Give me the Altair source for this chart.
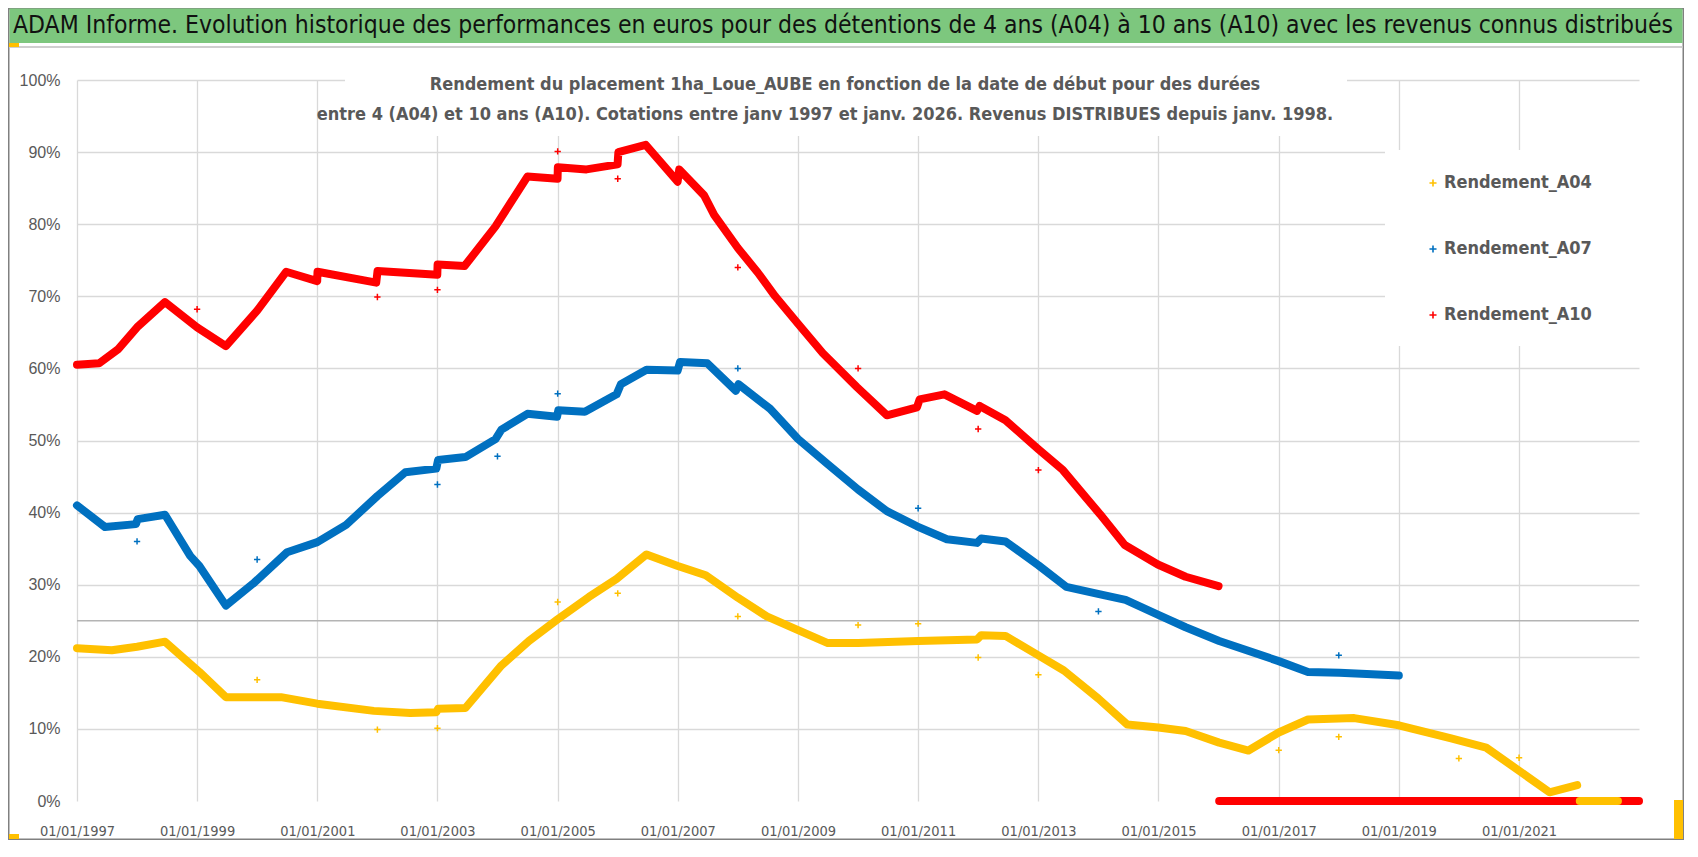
import altair as alt
import pandas as pd

TITLE = ("ADAM Informe. Evolution historique des performances en euros pour des détentions "
         "de 4 ans (A04) à 10 ans (A10) avec les revenus connus distribués")
SUBTITLE_1 = "Rendement du placement 1ha_Loue_AUBE en fonction de la date de début pour des durées"
SUBTITLE_2 = ("entre 4 (A04) et 10 ans (A10). Cotations entre janv 1997 et janv. 2026. "
              "Revenus DISTRIBUES depuis janv. 1998.")
SERIES = ["Rendement_A04", "Rendement_A07", "Rendement_A10"]
COLORS = ["#FFC000", "#0070C0", "#FF0000"]
X_TICK_YEARS = list(range(1997, 2022, 2))
Y_TICKS = list(range(0, 101, 10))

# ---- Rendement_A10 (red)
A10_DATES = ["1997-01-01", "1997-05-15", "1997-09-10", "1998-01-01", "1998-06-20", "1999-01-01",
             "1999-06-25", "2000-01-01", "2000-06-25", "2000-12-31", "2001-01-02", "2001-12-25",
             "2002-01-02", "2002-12-31", "2003-01-02", "2003-06-15", "2003-12-20", "2004-07-01",
             "2004-12-31", "2005-01-02", "2005-06-25", "2005-12-31", "2006-01-05", "2006-06-20",
             "2006-12-31", "2007-01-10", "2007-06-10", "2007-08-10", "2008-01-01", "2008-05-01",
             "2008-08-15", "2009-01-01", "2009-06-01", "2009-12-25", "2010-06-25", "2010-12-25",
             "2011-01-10", "2011-06-10", "2011-12-25", "2012-01-10", "2012-06-15", "2013-01-01",
             "2013-05-30", "2013-10-20", "2014-01-10", "2014-06-10", "2014-12-28", "2015-06-15",
             "2016-01-01"]
A10_VALUES = [60.5, 60.7, 62.7, 65.7, 69.2, 65.7,
              63.1, 68.0, 73.4, 72.1, 73.4, 71.9,
              73.5, 73.0, 74.4, 74.2, 79.7, 86.6,
              86.3, 87.9, 87.6, 88.3, 90.0, 91.0,
              85.9, 87.6, 84.0, 81.3, 76.7, 73.3,
              70.0, 66.2, 62.1, 57.4, 53.5, 54.6,
              55.7, 56.4, 54.1, 54.8, 52.8, 48.8,
              45.9, 42.0, 39.8, 35.5, 32.8, 31.1,
              29.8]
A10_ZERO_DATES = ["2016-01-05", "2022-12-31"]
A10_ZERO_VALUES = [0, 0]
A10_OUT_DATES = ["1999-01-01", "2002-01-01", "2003-01-01", "2005-01-01", "2006-01-01",
                 "2008-01-01", "2010-01-01", "2012-01-01", "2013-01-01"]
A10_OUT_VALUES = [68.2, 69.9, 70.9, 90.1, 86.3, 74.0, 60.0, 51.6, 45.9]

# ---- Rendement_A07 (blue)
A07_DATES = ["1997-01-01", "1997-06-20", "1997-12-25", "1998-01-05", "1998-06-20", "1998-11-20",
             "1999-01-15", "1999-06-25", "1999-12-15", "2000-07-01", "2001-01-01", "2001-06-25",
             "2002-01-01", "2002-06-20", "2002-12-25", "2003-01-05", "2003-06-20", "2003-12-20",
             "2004-01-25", "2004-07-01", "2004-12-28", "2005-01-05", "2005-06-15", "2005-12-25",
             "2006-01-20", "2006-06-25", "2006-12-31", "2007-01-15", "2007-06-30", "2007-12-20",
             "2008-01-05", "2008-07-15", "2009-01-01", "2009-07-01", "2010-01-01", "2010-06-25",
             "2010-12-25", "2011-06-25", "2011-12-25", "2012-01-20", "2012-06-15", "2013-01-01",
             "2013-06-20", "2014-01-05", "2014-06-15", "2014-12-31", "2015-06-15", "2016-01-05",
             "2017-01-01", "2017-06-28", "2018-01-05", "2018-06-20", "2019-01-01"]
A07_VALUES = [41.0, 38.0, 38.4, 39.1, 39.7, 34.0,
              32.6, 27.1, 30.3, 34.5, 35.9, 38.3,
              42.3, 45.6, 46.1, 47.3, 47.7, 50.2,
              51.5, 53.7, 53.3, 54.2, 54.0, 56.4,
              57.8, 59.8, 59.7, 60.9, 60.7, 56.9,
              57.8, 54.4, 50.2, 46.7, 43.2, 40.2,
              38.1, 36.3, 35.8, 36.4, 36.0, 32.7,
              29.7, 28.7, 27.9, 25.8, 24.1, 22.2,
              19.4, 17.9, 17.8, 17.6, 17.4]
A07_OUT_DATES = ["1998-01-01", "2000-01-01", "2003-01-01", "2004-01-01", "2005-01-01",
                 "2008-01-01", "2011-01-01", "2014-01-01", "2018-01-01"]
A07_OUT_VALUES = [36.0, 33.5, 43.9, 47.8, 56.5, 60.0, 40.6, 26.3, 20.2]

# ---- Rendement_A04 (yellow)
A04_DATES = ["1997-01-01", "1997-08-01", "1998-01-01", "1998-06-20", "1999-01-15", "1999-06-25",
             "2000-05-25", "2001-01-01", "2001-12-10", "2002-07-20", "2002-12-25", "2003-01-05",
             "2003-06-20", "2004-01-25", "2004-07-10", "2005-01-01", "2005-07-10", "2005-12-25",
             "2006-06-25", "2007-01-01", "2007-06-20", "2008-01-01", "2008-06-25", "2009-01-01",
             "2009-07-01", "2010-01-01", "2011-01-01", "2011-12-25", "2012-01-20", "2012-06-15",
             "2013-01-01", "2013-06-05", "2014-01-01", "2014-06-25", "2015-01-01", "2015-06-15",
             "2016-01-05", "2016-07-01", "2017-01-01", "2017-06-28", "2018-04-05", "2019-01-01",
             "2019-11-15", "2020-06-15", "2021-01-01", "2021-07-05", "2021-12-20"]
A04_VALUES = [21.2, 20.9, 21.4, 22.1, 17.9, 14.4,
              14.4, 13.5, 12.5, 12.2, 12.3, 12.8,
              12.9, 18.8, 22.2, 25.2, 28.3, 30.8,
              34.2, 32.6, 31.3, 28.2, 25.6, 23.7,
              21.9, 21.9, 22.2, 22.4, 23.0, 22.9,
              20.2, 18.1, 14.2, 10.6, 10.2, 9.7,
              8.1, 7.0, 9.5, 11.3, 11.5, 10.5,
              8.7, 7.4, 4.2, 1.2, 2.2]
A04_ZERO_DATES = ["2022-01-05", "2022-08-25"]
A04_ZERO_VALUES = [0, 0]
A04_OUT_DATES = ["2000-01-01", "2002-01-01", "2003-01-01", "2005-01-01", "2006-01-01",
                 "2008-01-01", "2010-01-01", "2011-01-01", "2012-01-01", "2013-01-01",
                 "2017-01-01", "2018-01-01", "2020-01-01", "2021-01-01"]
A04_OUT_VALUES = [16.8, 9.9, 10.1, 27.6, 28.8, 25.6, 24.4, 24.6, 19.9, 17.5,
                  7.05, 8.9, 5.9, 6.0]


def rows(series, seg, dates, values):
    return [{"series": series, "seg": seg, "date": d, "value": v} for d, v in zip(dates, values)]


line_rows = (rows("Rendement_A10", "a10", A10_DATES, A10_VALUES)
             + rows("Rendement_A10", "a10z", A10_ZERO_DATES, A10_ZERO_VALUES)
             + rows("Rendement_A07", "a07", A07_DATES, A07_VALUES)
             + rows("Rendement_A04", "a04", A04_DATES, A04_VALUES)
             + rows("Rendement_A04", "a04z", A04_ZERO_DATES, A04_ZERO_VALUES))
lines_df = pd.DataFrame(line_rows)
out_df = pd.DataFrame(rows("Rendement_A10", "o", A10_OUT_DATES, A10_OUT_VALUES)
                      + rows("Rendement_A07", "o", A07_OUT_DATES, A07_OUT_VALUES)
                      + rows("Rendement_A04", "o", A04_OUT_DATES, A04_OUT_VALUES))

NARROW = "Liberation Sans Narrow, DejaVu Sans Condensed, sans-serif"
CROSS = "M-1,0L1,0M0,-1L0,1"
W, H = 1562, 721

xscale = alt.Scale(type="utc", nice=False,
                   domain=[alt.DateTime(year=1997, month=1, date=1, utc=True),
                           alt.DateTime(year=2022, month=12, date=31, utc=True)])
yscale = alt.Scale(domain=[0, 100], nice=False)
xaxis = alt.Axis(values=[alt.DateTime(year=y, month=1, date=1, utc=True) for y in X_TICK_YEARS],
                 labelExpr="utcFormat(datum.value, '%d/%m/%Y')", title=None, grid=True,
                 gridColor="#d9d9d9", gridWidth=1.3, domain=False, ticks=False,
                 labelPadding=23, labelFont=NARROW, labelFontSize=14.5, labelColor="#595959",
                 labelFlush=False, labelOverlap=False)
yaxis = alt.Axis(values=Y_TICKS, labelExpr="datum.value + '%'", title=None, grid=True,
                 gridColor="#d9d9d9", gridWidth=1.3,
                 gridOpacity={"condition": {"test": "datum.value === 0", "value": 0}, "value": 1},
                 domain=False, ticks=False, labelPadding=17,
                 labelFont="Liberation Sans, sans-serif", labelFontSize=16, labelColor="#595959")
legend = alt.Legend(title=None, orient="none", legendX=1325, legendY=72, padding=22,
                    rowPadding=48, symbolType=CROSS, symbolSize=50, symbolStrokeWidth=1.6,
                    symbolFillColor="transparent", labelOffset=2, labelFont=NARROW,
                    labelFontSize=18, labelFontWeight="bold", labelColor="#595959",
                    labelLimit=400, direction="vertical")
color = alt.Color("series:N", scale=alt.Scale(domain=SERIES, range=COLORS), legend=legend)
X = alt.X("date:T", scale=xscale, axis=xaxis)
Y = alt.Y("value:Q", scale=yscale, axis=yaxis)

one = pd.DataFrame({"t": [""]})

sub_box = alt.Chart(one).mark_rect(color="white").encode(
    x=alt.value(268), x2=alt.value(1270), y=alt.value(-15), y2=alt.value(56))
leg_box = alt.Chart(one).mark_rect(color="white").encode(
    x=alt.value(1308), x2=alt.value(1563), y=alt.value(70), y2=alt.value(266))
rule25 = alt.Chart(one).mark_rule(color="#b4b4b4", strokeWidth=1.5).encode(y=alt.datum(25))


def line_layer(series):
    return alt.Chart(lines_df).transform_filter(alt.datum.series == series).mark_line(
        strokeWidth=8, strokeCap="round", strokeJoin="round").encode(
        x=X, y=Y, color=color, detail="seg:N")


points = alt.Chart(out_df).mark_point(shape=CROSS, filled=False, size=40, strokeWidth=1.5,
                                      opacity=1).encode(x=X, y=Y, color=color)

frame = alt.Chart(one).mark_rect(fill="transparent", stroke="#808080", strokeWidth=1.5).encode(
    x=alt.value(-68.25), x2=alt.value(1606.25), y=alt.value(-71.25), y2=alt.value(759.25))
green = alt.Chart(one).mark_rect(color="#7dc77e").encode(
    x=alt.value(-67.5), x2=alt.value(1605.5), y=alt.value(-71.5), y2=alt.value(-37))
under = alt.Chart(one).mark_rule(color="#cfcfcf", strokeWidth=2).encode(
    x=alt.value(-67.5), x2=alt.value(1605.5), y=alt.value(-33))
yl1 = alt.Chart(one).mark_rect(color="#FFC000").encode(
    x=alt.value(-68), x2=alt.value(-58), y=alt.value(-37), y2=alt.value(-33))
yl2 = alt.Chart(one).mark_rect(color="#FFC000").encode(
    x=alt.value(-68), x2=alt.value(-58), y=alt.value(754), y2=alt.value(759))
yl3 = alt.Chart(one).mark_rect(color="#FFC000").encode(
    x=alt.value(1597), x2=alt.value(1606), y=alt.value(720), y2=alt.value(759))

title = alt.Chart(pd.DataFrame({"t": [TITLE]})).mark_text(
    align="left", baseline="alphabetic", font=NARROW, fontSize=24.5, color="#111111").encode(
    text="t:N", x=alt.value(-64), y=alt.value(-47))
sub1 = alt.Chart(pd.DataFrame({"t": [SUBTITLE_1]})).mark_text(
    align="center", baseline="middle", font=NARROW, fontSize=18, fontWeight="bold",
    color="#595959").encode(text="t:N", x=alt.value(768), y=alt.value(5))
sub2 = alt.Chart(pd.DataFrame({"t": [SUBTITLE_2]})).mark_text(
    align="center", baseline="middle", font=NARROW, fontSize=18, fontWeight="bold",
    color="#595959").encode(text="t:N", x=alt.value(748), y=alt.value(35))

chart = alt.layer(
    sub_box, leg_box, rule25,
    line_layer("Rendement_A10"), line_layer("Rendement_A07"), line_layer("Rendement_A04"),
    points, frame, green, under, yl1, yl2, yl3, title, sub1, sub2
).properties(
    width=W, height=H,
    autosize=alt.AutoSizeParams(type="none"),
    padding={"left": 69, "top": 72, "right": 45, "bottom": 39},
    background="white",
).configure_view(stroke=None)

chart.save("out.html", embed_options={"renderer": "svg", "actions": False})
